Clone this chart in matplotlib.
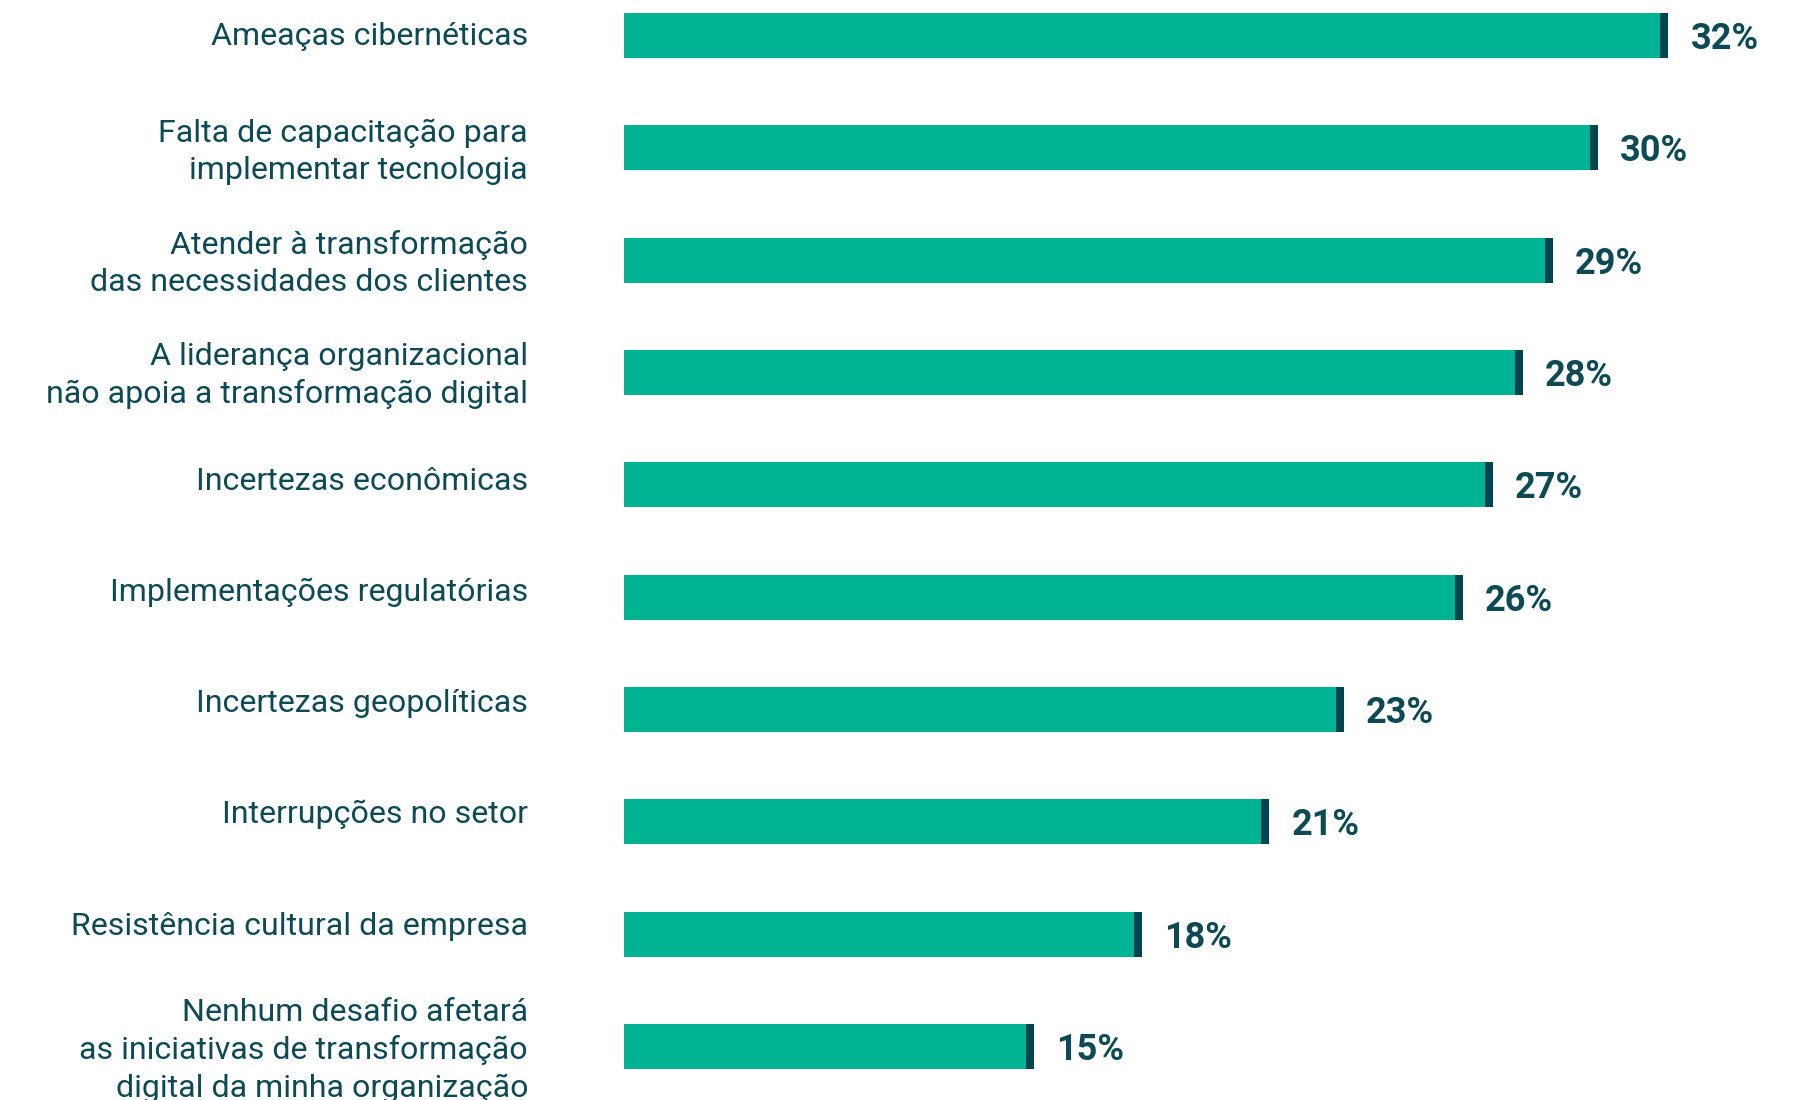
import matplotlib
matplotlib.use("Agg")
import matplotlib.pyplot as plt
import matplotlib.transforms as mtransforms

categories = [
    "Ameaças cibernéticas",
    "Falta de capacitação para\nimplementar tecnologia",
    "Atender à transformação\ndas necessidades dos clientes",
    "A liderança organizacional\nnão apoia a transformação digital",
    "Incertezas econômicas",
    "Implementações regulatórias",
    "Incertezas geopolíticas",
    "Interrupções no setor",
    "Resistência cultural da empresa",
    "Nenhum desafio afetará\nas iniciativas de transformação\ndigital da minha organização",
]
# bar lengths as drawn (unrounded shares, in %)
values = [31.9, 30.0, 28.8, 28.0, 27.2, 26.4, 23.2, 21.2, 17.8, 14.9]
value_labels = ["32%", "30%", "29%", "28%", "27%", "26%", "23%", "21%", "18%", "15%"]

GREEN = "#00B493"
CAP = "#00454F"
TEXT = "#0E4A54"

plt.rcParams["font.family"] = ["Roboto", "DejaVu Sans"]

W, H = 1803, 1100
DPI = 100
fig = plt.figure(figsize=(W / DPI, H / DPI), dpi=DPI)
ax_left_px = 624
ax = fig.add_axes([ax_left_px / W, 0, 1 - ax_left_px / W, 1])

k = 37.3      # px per percentage point
x0 = 3.9      # value at axes left edge
x1 = x0 + (W - ax_left_px) / k
ax.set_xlim(x0, x1)
row0, step = 35.5, 112.33
ax.set_ylim((H - row0) / step, -row0 / step)


def px_to_y(px):
    return (px - row0) / step


ys = list(range(len(values)))
bh = 45 / step
cap_w = 8 / k
ax.barh(ys, values, height=bh, color=GREEN, left=0)
ax.barh(ys, [cap_w] * len(values), left=[v - cap_w for v in values],
        height=bh, color=CAP)

pt = 72 / DPI  # points per pixel
for y, v, lab in zip(ys, values, value_labels):
    ax.annotate(lab, xy=(v, y), xytext=(22 * pt, -13.5 * pt),
                textcoords="offset points", ha="left", va="baseline",
                fontsize=26, fontweight="bold", color=TEXT)

trans = mtransforms.blended_transform_factory(ax.transAxes, ax.transData)
lx = (528 - ax_left_px) / (W - ax_left_px)
line_px = 38.5
cap_half = 11.6
label_step = 111.2
for i, c in enumerate(categories):
    n = c.count("\n") + 1
    if n == 1:
        base_px = 45 + label_step * i
    else:
        # baseline of the last line, block centred on the bar
        base_px = row0 + step * i + (n - 1) * line_px / 2 + cap_half
    ax.text(lx, px_to_y(base_px), c, transform=trans, ha="right",
            va="baseline", multialignment="right", fontsize=23.1,
            color=TEXT, linespacing=1.35, clip_on=False)

ax.axis("off")
fig.savefig("out.png", dpi=DPI)
